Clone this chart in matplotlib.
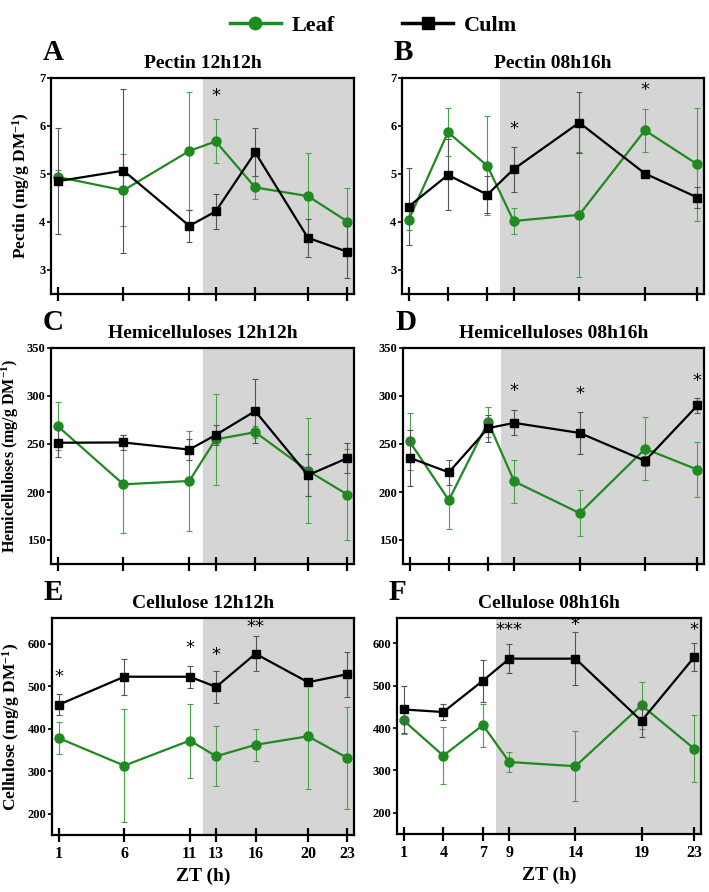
import matplotlib
matplotlib.use("Agg")
import matplotlib.pyplot as plt
from matplotlib.lines import Line2D

plt.rcParams['font.family'] = ['Liberation Serif', 'DejaVu Serif']
plt.rcParams['font.weight'] = 'bold'
plt.rcParams['mathtext.fontset'] = 'custom'
plt.rcParams['mathtext.rm'] = 'Liberation Serif:bold'
plt.rcParams['mathtext.bf'] = 'Liberation Serif:bold'
plt.rcParams['mathtext.default'] = 'bf'

# sampling times (ZT, h)
zt_12 = [1, 6, 11, 13, 16, 20, 23]
zt_08 = [1, 4, 7, 9, 14, 19, 23]

# Pectin
pectin12_leaf = [4.94, 4.66, 5.48, 5.68, 4.72, 4.54, 4.01]
pectin12_leaf_err = [0.15, 0.75, 1.22, 0.46, 0.24, 0.90, 0.70]
pectin12_culm = [4.85, 5.07, 3.92, 4.22, 5.45, 3.67, 3.38]
pectin12_culm_err = [1.10, 1.71, 0.34, 0.36, 0.50, 0.39, 0.54]
pectin08_leaf = [4.04, 5.87, 5.17, 4.02, 4.15, 5.91, 5.20]
pectin08_leaf_err = [0.20, 0.50, 1.03, 0.28, 1.30, 0.45, 1.18]
pectin08_culm = [4.32, 4.98, 4.57, 5.10, 6.07, 5.01, 4.51]
pectin08_culm_err = [0.80, 0.74, 0.39, 0.47, 0.64, 0.05, 0.22]

# Hemicelluloses
hemi12_leaf = [268.7, 208.0, 211.5, 254.8, 262.3, 222.2, 197.3]
hemi12_leaf_err = [25, 51, 52, 47, 6, 55, 47]
hemi12_culm = [251.3, 251.6, 244.2, 259.4, 284.3, 217.5, 235.3]
hemi12_culm_err = [15, 8, 11, 10, 33, 22, 16]
hemi08_leaf = [252.7, 191.5, 273.0, 211.0, 178.0, 245.0, 223.3]
hemi08_leaf_err = [30, 30, 16, 22, 24, 33, 29]
hemi08_culm = [235.7, 220.5, 266.5, 272.0, 261.5, 232.5, 290.2]
hemi08_culm_err = [29, 13, 14, 13, 22, 5, 8]

# Cellulose
cell12_leaf = [378, 313, 372, 335, 362, 382, 331]
cell12_leaf_err = [37, 133, 87, 71, 38, 123, 120]
cell12_culm = [456, 522, 522, 498, 576, 509, 528]
cell12_culm_err = [25, 42, 26, 37, 41, 5, 53]
cell08_leaf = [418, 335, 407, 320, 310, 454, 351]
cell08_leaf_err = [32, 68, 51, 23, 83, 56, 79]
cell08_culm = [444, 438, 512, 564, 564, 417, 568]
cell08_culm_err = [56, 20, 50, 35, 63, 37, 33]

# significance marks (x, y, label)
stars_pectin12 = [(13, 6.62, '*')]
stars_pectin08 = [(9, 5.94, '*'), (19, 6.74, '*')]
stars_hemi12 = []
stars_hemi08 = [(9, 305, '*'), (14, 302, '*'), (23, 316, '*')]
stars_cell12 = [(1, 522, '*'), (11, 589, '*'), (13, 573, '*'), (16, 639, '**')]
stars_cell08 = [(9, 632, '***'), (14, 643, '*'), (23, 631, '*')]

green = '#1f8a1f'
shade = '#d5d5d5'

W, H = 709, 892
fig = plt.figure(figsize=(W / 100, H / 100), dpi=100)


def add_panel(rect_px, letter, title, x, leaf, leaf_err, culm, culm_err,
              stars, dark_start, ylim, yticks, ylabel=None, ylabel_x=None,
              ylabel_size=12, bottom=False):
    l, r, t, b = rect_px
    ax = fig.add_axes([l / W, 1 - b / H, (r - l) / W, (b - t) / H])
    ax.axvspan(dark_start, 23.5, color=shade, lw=0, zorder=0)
    ax.errorbar(x, leaf, yerr=leaf_err, color=green, marker='o', ms=6.5,
                lw=1.6, ecolor='#4aa24a', elinewidth=0.8, capsize=2.5,
                capthick=0.8, zorder=3)
    ax.errorbar(x, culm, yerr=culm_err, color='black', marker='s', ms=6,
                lw=1.6, ecolor='#555555', elinewidth=0.8, capsize=2.5,
                capthick=0.8, zorder=4)
    for sx, sy, s in stars:
        ax.text(sx, sy, s, ha='center', va='center', fontsize=13,
                fontweight='normal', family='DejaVu Sans')
    ax.set_xlim(0.5, 23.5)
    ax.set_ylim(*ylim)
    ax.set_xticks(x)
    ax.set_yticks(yticks)
    for s in ax.spines.values():
        s.set_linewidth(1.6)
    ax.tick_params(axis='x', direction='inout', length=10, width=1.6,
                   labelsize=11.5, pad=3, labelbottom=bottom)
    ax.tick_params(axis='y', direction='out', length=3, width=1.2,
                   labelsize=9, pad=1)
    ax.set_title(title, fontsize=14, fontweight='bold', pad=7)
    fig.text((l - 8) / W, 1 - (t - 26) / H, letter, fontsize=21,
             fontweight='bold', ha='left', va='center')
    if ylabel:
        ax.set_ylabel(ylabel, fontsize=ylabel_size, fontweight='bold')
        ax.yaxis.set_label_coords(ylabel_x, 0.5)
    if bottom:
        ax.set_xlabel('ZT (h)', fontsize=14, fontweight='bold', labelpad=4)
    return ax


unit = r' (mg/g DM$^{-1}$)'

add_panel((51, 354, 78, 294), 'A', 'Pectin 12h12h', zt_12,
          pectin12_leaf, pectin12_leaf_err, pectin12_culm, pectin12_culm_err,
          stars_pectin12, 12, (2.5, 7), [3, 4, 5, 6, 7],
          'Pectin' + unit, -0.062, 12.5)
add_panel((402, 704, 78, 294), 'B', 'Pectin 08h16h', zt_08,
          pectin08_leaf, pectin08_leaf_err, pectin08_culm, pectin08_culm_err,
          stars_pectin08, 8, (2.5, 7), [3, 4, 5, 6, 7])
add_panel((51, 354, 348, 564), 'C', 'Hemicelluloses 12h12h', zt_12,
          hemi12_leaf, hemi12_leaf_err, hemi12_culm, hemi12_culm_err,
          stars_hemi12, 12, (125, 350), [150, 200, 250, 300, 350],
          'Hemicelluloses' + unit, -0.098, 11.5)
add_panel((403, 704, 348, 564), 'D', 'Hemicelluloses 08h16h', zt_08,
          hemi08_leaf, hemi08_leaf_err, hemi08_culm, hemi08_culm_err,
          stars_hemi08, 8, (125, 350), [150, 200, 250, 300, 350])
add_panel((52, 354, 618, 835), 'E', 'Cellulose 12h12h', zt_12,
          cell12_leaf, cell12_leaf_err, cell12_culm, cell12_culm_err,
          stars_cell12, 12, (150, 660), [200, 300, 400, 500, 600],
          'Cellulose' + unit, -0.1, 12.5, bottom=True)
add_panel((397, 701, 618, 834), 'F', 'Cellulose 08h16h', zt_08,
          cell08_leaf, cell08_leaf_err, cell08_culm, cell08_culm_err,
          stars_cell08, 8, (150, 660), [200, 300, 400, 500, 600],
          bottom=True)

handles = [Line2D([], [], color=green, marker='o', ms=9, lw=2.5),
           Line2D([], [], color='black', marker='s', ms=9, lw=2.5)]
fig.legend(handles, ['Leaf', 'Culm'], loc='upper center',
           bbox_to_anchor=(0.527, 1.005), ncol=2, frameon=False,
           prop={'size': 16, 'weight': 'bold'}, handlelength=2.3,
           handletextpad=0.5, columnspacing=3.0)

fig.savefig('out.png', dpi=100)
